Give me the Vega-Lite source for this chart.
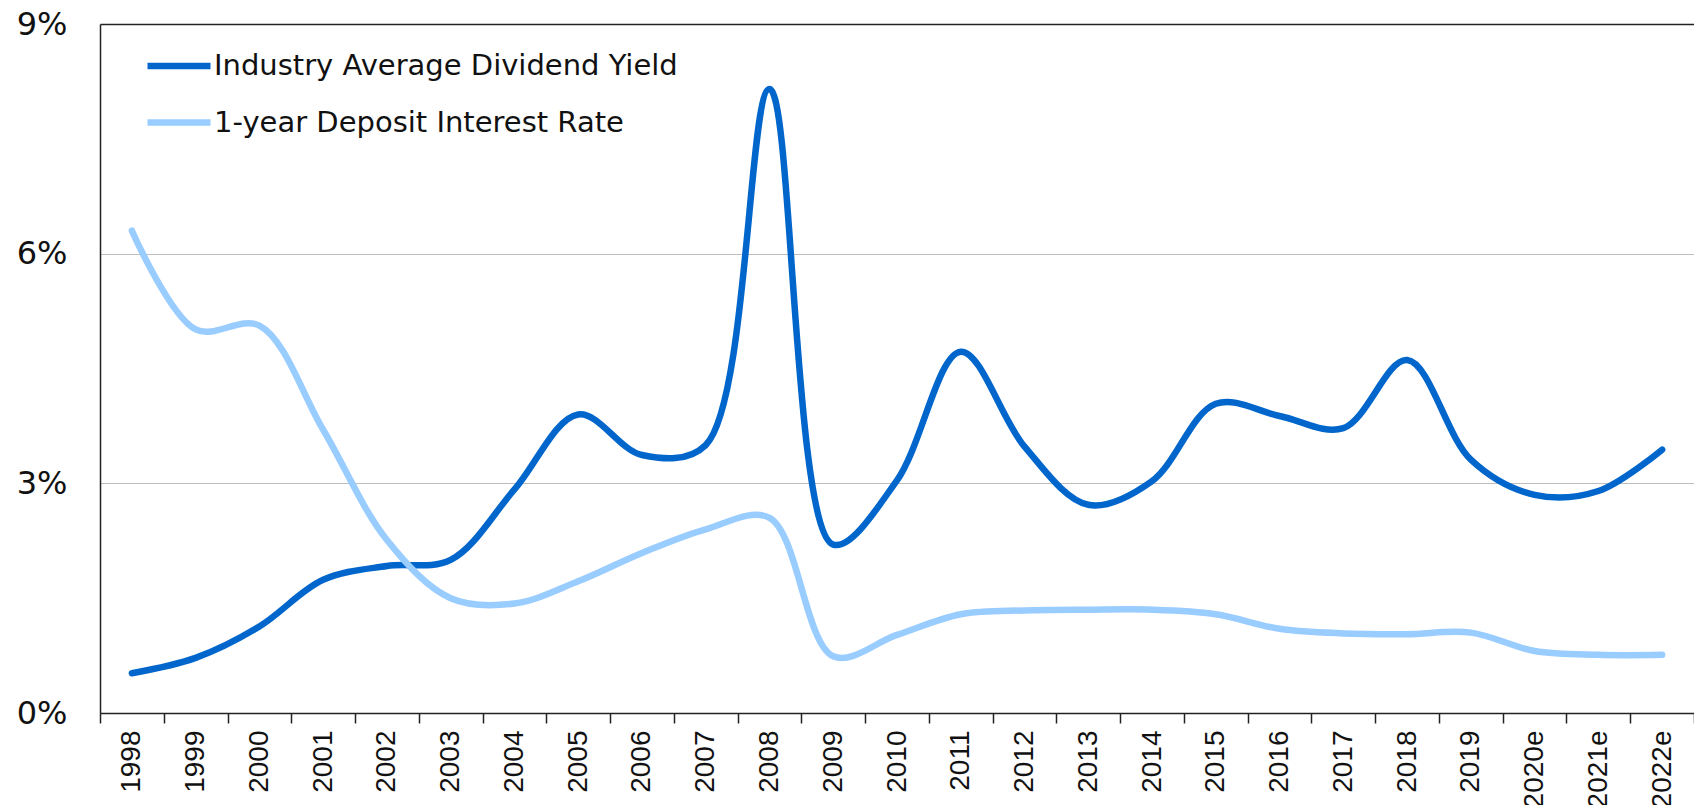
{
  "$schema": "https://vega.github.io/schema/vega-lite/v6.json",
  "autosize": {"type": "none"},
  "padding": {"left": 100, "top": 24, "right": 0, "bottom": 92},
  "width": 1594,
  "height": 689,
  "background": "white",
  "view": {"stroke": null},
  "data": {
    "values": [
      {"year": "1998", "series": "Industry Average Dividend Yield", "value": 0.52},
      {"year": "1999", "series": "Industry Average Dividend Yield", "value": 0.72},
      {"year": "2000", "series": "Industry Average Dividend Yield", "value": 1.13},
      {"year": "2001", "series": "Industry Average Dividend Yield", "value": 1.74},
      {"year": "2002", "series": "Industry Average Dividend Yield", "value": 1.92},
      {"year": "2003", "series": "Industry Average Dividend Yield", "value": 2.0},
      {"year": "2004", "series": "Industry Average Dividend Yield", "value": 2.92},
      {"year": "2005", "series": "Industry Average Dividend Yield", "value": 3.9},
      {"year": "2006", "series": "Industry Average Dividend Yield", "value": 3.37},
      {"year": "2007", "series": "Industry Average Dividend Yield", "value": 3.5},
      {"year": "2008", "series": "Industry Average Dividend Yield", "value": 8.15},
      {"year": "2009", "series": "Industry Average Dividend Yield", "value": 2.2},
      {"year": "2010", "series": "Industry Average Dividend Yield", "value": 3.04},
      {"year": "2011", "series": "Industry Average Dividend Yield", "value": 4.72},
      {"year": "2012", "series": "Industry Average Dividend Yield", "value": 3.48},
      {"year": "2013", "series": "Industry Average Dividend Yield", "value": 2.72},
      {"year": "2014", "series": "Industry Average Dividend Yield", "value": 3.03},
      {"year": "2015", "series": "Industry Average Dividend Yield", "value": 4.04},
      {"year": "2016", "series": "Industry Average Dividend Yield", "value": 3.88},
      {"year": "2017", "series": "Industry Average Dividend Yield", "value": 3.72},
      {"year": "2018", "series": "Industry Average Dividend Yield", "value": 4.61},
      {"year": "2019", "series": "Industry Average Dividend Yield", "value": 3.31},
      {"year": "2020e", "series": "Industry Average Dividend Yield", "value": 2.85},
      {"year": "2021e", "series": "Industry Average Dividend Yield", "value": 2.9},
      {"year": "2022e", "series": "Industry Average Dividend Yield", "value": 3.44},
      {"year": "1998", "series": "1-year Deposit Interest Rate", "value": 6.3},
      {"year": "1999", "series": "1-year Deposit Interest Rate", "value": 5.01},
      {"year": "2000", "series": "1-year Deposit Interest Rate", "value": 5.06},
      {"year": "2001", "series": "1-year Deposit Interest Rate", "value": 3.7},
      {"year": "2002", "series": "1-year Deposit Interest Rate", "value": 2.26},
      {"year": "2003", "series": "1-year Deposit Interest Rate", "value": 1.5},
      {"year": "2004", "series": "1-year Deposit Interest Rate", "value": 1.43},
      {"year": "2005", "series": "1-year Deposit Interest Rate", "value": 1.72},
      {"year": "2006", "series": "1-year Deposit Interest Rate", "value": 2.09},
      {"year": "2007", "series": "1-year Deposit Interest Rate", "value": 2.4},
      {"year": "2008", "series": "1-year Deposit Interest Rate", "value": 2.55},
      {"year": "2009", "series": "1-year Deposit Interest Rate", "value": 0.74},
      {"year": "2010", "series": "1-year Deposit Interest Rate", "value": 1.02},
      {"year": "2011", "series": "1-year Deposit Interest Rate", "value": 1.29},
      {"year": "2012", "series": "1-year Deposit Interest Rate", "value": 1.34},
      {"year": "2013", "series": "1-year Deposit Interest Rate", "value": 1.35},
      {"year": "2014", "series": "1-year Deposit Interest Rate", "value": 1.35},
      {"year": "2015", "series": "1-year Deposit Interest Rate", "value": 1.29},
      {"year": "2016", "series": "1-year Deposit Interest Rate", "value": 1.1},
      {"year": "2017", "series": "1-year Deposit Interest Rate", "value": 1.04},
      {"year": "2018", "series": "1-year Deposit Interest Rate", "value": 1.03},
      {"year": "2019", "series": "1-year Deposit Interest Rate", "value": 1.05},
      {"year": "2020e", "series": "1-year Deposit Interest Rate", "value": 0.81},
      {"year": "2021e", "series": "1-year Deposit Interest Rate", "value": 0.76},
      {"year": "2022e", "series": "1-year Deposit Interest Rate", "value": 0.76}
    ]
  },
  "mark": {"type": "line", "interpolate": "catmull-rom", "strokeCap": "round", "strokeJoin": "round", "strokeWidth": 6.5},
  "encoding": {
    "x": {
      "field": "year",
      "type": "nominal",
      "sort": null,
      "scale": {"type": "band", "paddingInner": 0, "paddingOuter": 0},
      "axis": {
        "title": null,
        "tickBand": "extent",
        "ticks": true,
        "tickSize": 10,
        "tickWidth": 1.5,
        "tickColor": "#222222",
        "domainColor": "#222222",
        "domainWidth": 1.5,
        "labelAngle": -90,
        "labelFont": "Liberation Sans",
        "labelFontSize": 28,
        "labelColor": "#111111",
        "labelPadding": 7,
        "grid": false
      }
    },
    "y": {
      "field": "value",
      "type": "quantitative",
      "scale": {"domain": [0, 9], "nice": false, "zero": true},
      "axis": {
        "title": null,
        "values": [0, 3, 6, 9],
        "labelExpr": "datum.value + '%'",
        "ticks": false,
        "tickSize": 0,
        "labelPadding": 33,
        "labelFont": "DejaVu Sans",
        "labelFontSize": 32,
        "labelColor": "#111111",
        "domainColor": "#222222",
        "domainWidth": 1.5,
        "grid": true,
        "gridColor": {"condition": {"test": "datum.value >= 9", "value": "#222222"}, "value": "#bdbdbd"},
        "gridWidth": {"condition": {"test": "datum.value >= 9", "value": 1.5}, "value": 1}
      }
    },
    "color": {
      "field": "series",
      "type": "nominal",
      "scale": {
        "domain": ["Industry Average Dividend Yield", "1-year Deposit Interest Rate"],
        "range": ["#0066CC", "#99CCFF"]
      },
      "legend": {
        "title": null,
        "orient": "none",
        "legendX": 44,
        "legendY": 7,
        "padding": 0,
        "symbolType": "stroke",
        "symbolSize": 3969,
        "symbolStrokeWidth": 6.5,
        "labelFont": "DejaVu Sans",
        "labelFontSize": 29,
        "labelColor": "#111111",
        "labelOffset": 0,
        "labelLimit": 800,
        "rowPadding": 6.5
      }
    }
  }
}
